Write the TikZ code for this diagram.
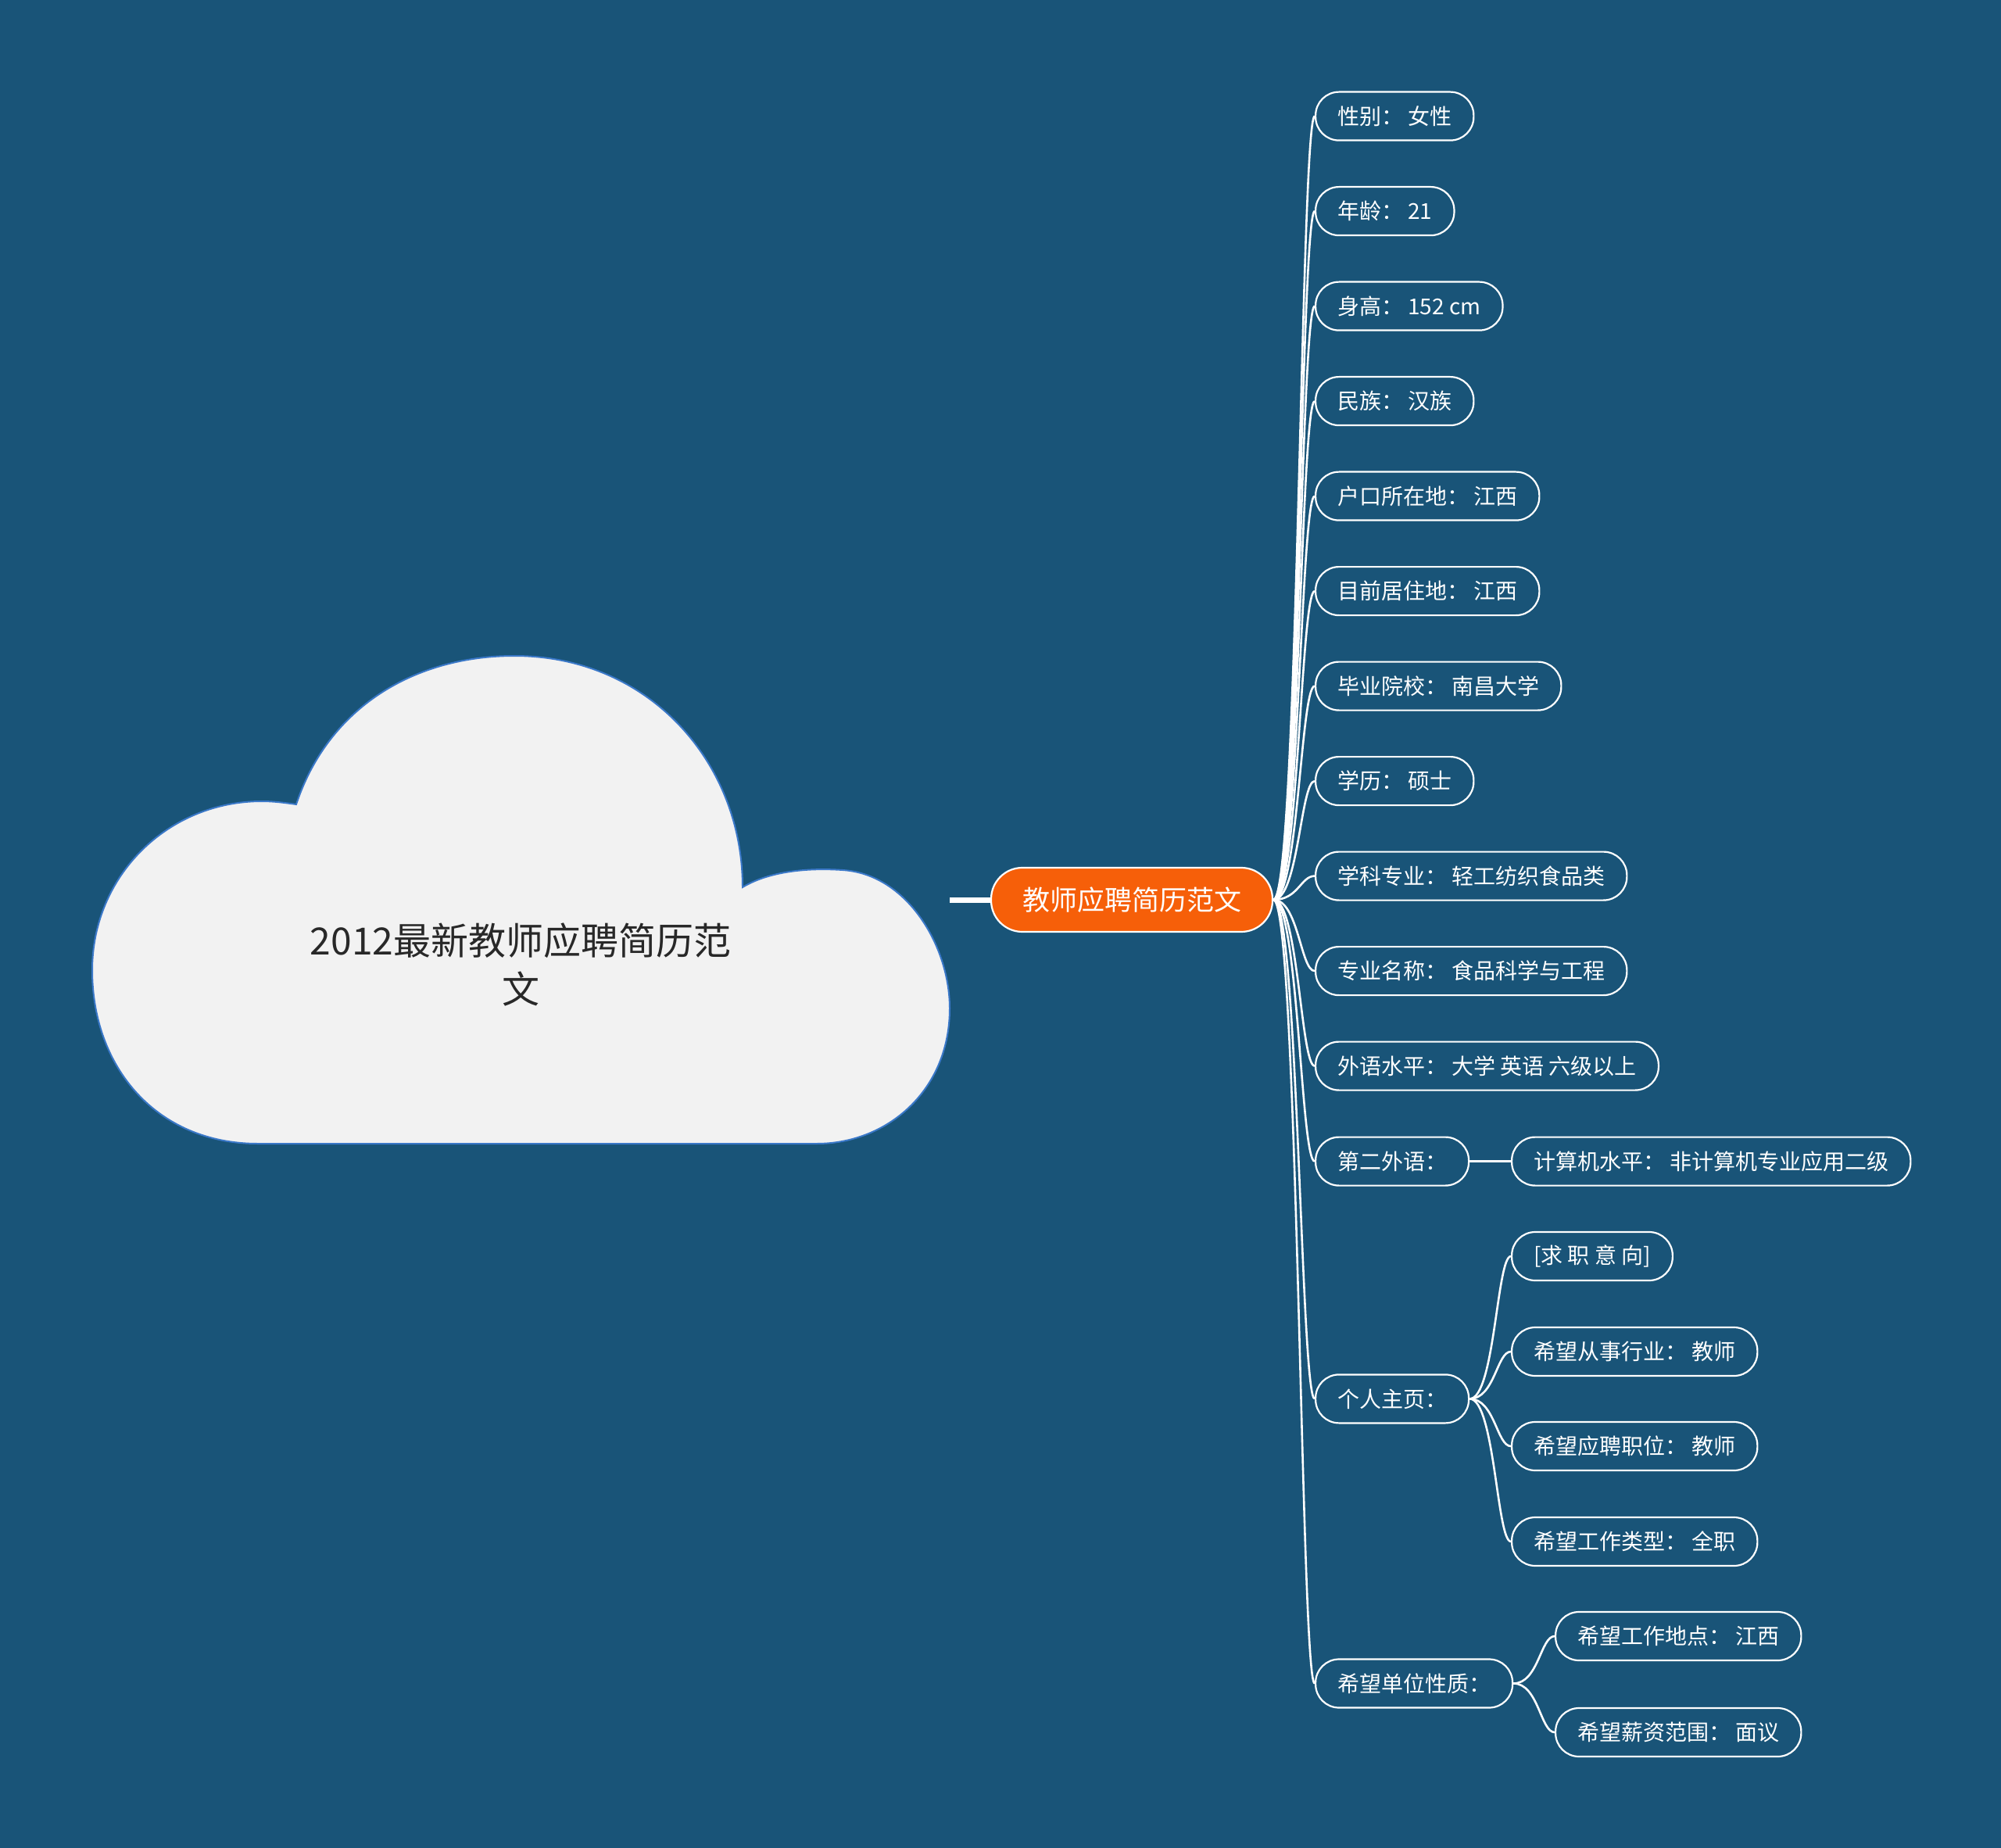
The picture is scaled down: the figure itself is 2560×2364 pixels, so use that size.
\documentclass[tikz,border=0pt]{standalone}
\usepackage{fontspec}
\newfontfamily\cjk{Noto Sans CJK SC}
\usetikzlibrary{calc}
\definecolor{bg}{RGB}{25,84,120}
\definecolor{orangec}{RGB}{246,95,9}
\definecolor{cloudfill}{RGB}{242,242,242}
\definecolor{cloudline}{RGB}{58,120,200}
\definecolor{titletext}{RGB}{40,40,40}
\begin{document}
\begin{tikzpicture}[x=0.5pt,y=-0.5pt,
  leaf/.style={draw=white, line width=1.1pt, fill=bg, text=white, rounded corners=15pt,
    minimum height=31pt, inner xsep=14pt, inner ysep=0pt,
    font=\cjk\fontsize{14pt}{16pt}\selectfont, anchor=west},
  centernode/.style={draw=white, line width=1.1pt, fill=orangec, text=white, rounded corners=20pt,
    minimum height=41pt, inner xsep=20pt, inner ysep=0pt,
    font=\cjk\fontsize{17.5pt}{20pt}\selectfont},
  titlenode/.style={text=titletext, align=center, font=\cjk\fontsize{24pt}{31pt}\selectfont},
  conn/.style={draw=white, line width=1.3pt}]
\fill[bg] (0,0) rectangle (2560,2364);
\useasboundingbox (0,0) rectangle (2560,2364);
% cloud
\draw[fill=cloudfill, draw=cloudline, line width=1pt]
  (379,1029) .. controls (420,905) and (530,839) .. (658,839)
  .. controls (830,839) and (950,975) .. (950,1135)
  .. controls (985,1114) and (1035,1110) .. (1078,1113)
  .. controls (1160,1118) and (1215,1210) .. (1215,1290)
  .. controls (1215,1395) and (1135,1463) .. (1045,1463)
  -- (330,1463)
  .. controls (200,1463) and (118,1365) .. (118,1241)
  .. controls (118,1120) and (215,1025) .. (335,1025)
  .. controls (350,1025) and (365,1027) .. (379,1029) -- cycle;
\node[titlenode] (title) at (666,1234) {2012最新教师应聘简历范\\文};
\coordinate (cloudR) at (1215,1151);
% center
\node[centernode] (c) at (1448,1151) {教师应聘简历范文};
\draw[white, line width=3.5pt] (cloudR) -- (c.west);
% children
\node[leaf] (n1) at (1682,148.6) {性别： 女性};
\node[leaf] (n2) at (1682,270.1) {年龄： 21};
\node[leaf] (n3) at (1682,391.6) {身高： 152 cm};
\node[leaf] (n4) at (1682,513.1) {民族： 汉族};
\node[leaf] (n5) at (1682,634.6) {户口所在地： 江西};
\node[leaf] (n6) at (1682,756.1) {目前居住地： 江西};
\node[leaf] (n7) at (1682,877.6) {毕业院校： 南昌大学};
\node[leaf] (n8) at (1682,999.1) {学历： 硕士};
\node[leaf] (n9) at (1682,1120.6) {学科专业： 轻工纺织食品类};
\node[leaf] (n10) at (1682,1242.1) {专业名称： 食品科学与工程};
\node[leaf] (n11) at (1682,1363.6) {外语水平： 大学 英语 六级以上};
\node[leaf] (n12) at (1682,1485.6) {第二外语：};
\node[leaf] (n13) at (1682,1789.4) {个人主页：};
\node[leaf] (n14) at (1682,2153.5) {希望单位性质：};
% grandchildren
\node[leaf] (g1) at (1933,1485.6) {计算机水平： 非计算机专业应用二级};
\node[leaf] (g2) at (1933,1607) {[求 职 意 向]};
\node[leaf] (g3) at (1933,1729) {希望从事行业： 教师};
\node[leaf] (g4) at (1933,1850) {希望应聘职位： 教师};
\node[leaf] (g5) at (1933,1972) {希望工作类型： 全职};
\node[leaf] (g6) at (1989,2093) {希望工作地点： 江西};
\node[leaf] (g7) at (1989,2216) {希望薪资范围： 面议};
% connectors
\foreach \k in {1,...,14} {\draw[conn] (c.east) .. controls +(32,0) and +(-18,0) .. (n\k.west);}
\draw[white, line width=1.6pt] (n12.east) -- (g1.west);
\foreach \k in {2,...,5} {\draw[conn] (n13.east) .. controls +(32,0) and +(-18,0) .. (g\k.west);}
\foreach \k in {6,7} {\draw[conn] (n14.east) .. controls +(32,0) and +(-18,0) .. (g\k.west);}
\end{tikzpicture}
\end{document}
